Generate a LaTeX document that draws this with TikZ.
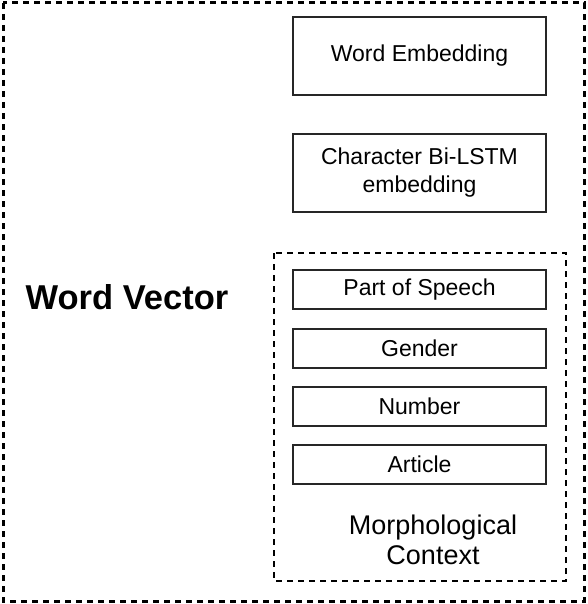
\documentclass[tikz,border=0pt]{standalone}
\usepackage{fontspec}
\setmainfont{Liberation Sans}
\usetikzlibrary{positioning}

\begin{document}
\begin{tikzpicture}[x=1bp, y=-1bp,
    featbox/.style={draw=black!85, line width=2bp, minimum width=253bp,
      align=center, inner sep=0pt, font=\fontsize{23bp}{28bp}\selectfont},
    groupline/.style={draw=black, line width=2.2bp, dash pattern=on 6bp off 5bp}]
        \useasboundingbox (0,0) rectangle (588,604);
        % outer word vector frame
        \draw[groupline, line width=3bp] (3,3) rectangle (584,601);
        \node[font=\bfseries\fontsize{34.5bp}{40bp}\selectfont] (wordvec) at (127,297) {Word Vector};
        % embeddings
        \node[featbox, minimum height=78bp] (wordemb) at (419.5,56) {Word Embedding};
        \node[featbox, minimum height=78bp] (charemb) at (419.5,173) {Character Bi-LSTM\\embedding};
        % morphological features
        \draw[groupline] (274,253) rectangle (566,581);
        \node[featbox, minimum height=39bp] (pos) at (419.5,289.5) {Part of Speech};
        \node[featbox, minimum height=39bp] (gender) at (419.5,348.5) {Gender};
        \node[featbox, minimum height=39bp] (number) at (419.5,406.5) {Number};
        \node[featbox, minimum height=39bp] (article) at (419.5,464.5) {Article};
        \node[align=center, font=\fontsize{27bp}{30bp}\selectfont] (morph) at (433,540) {Morphological\\Context};
      \end{tikzpicture}
\end{document}
